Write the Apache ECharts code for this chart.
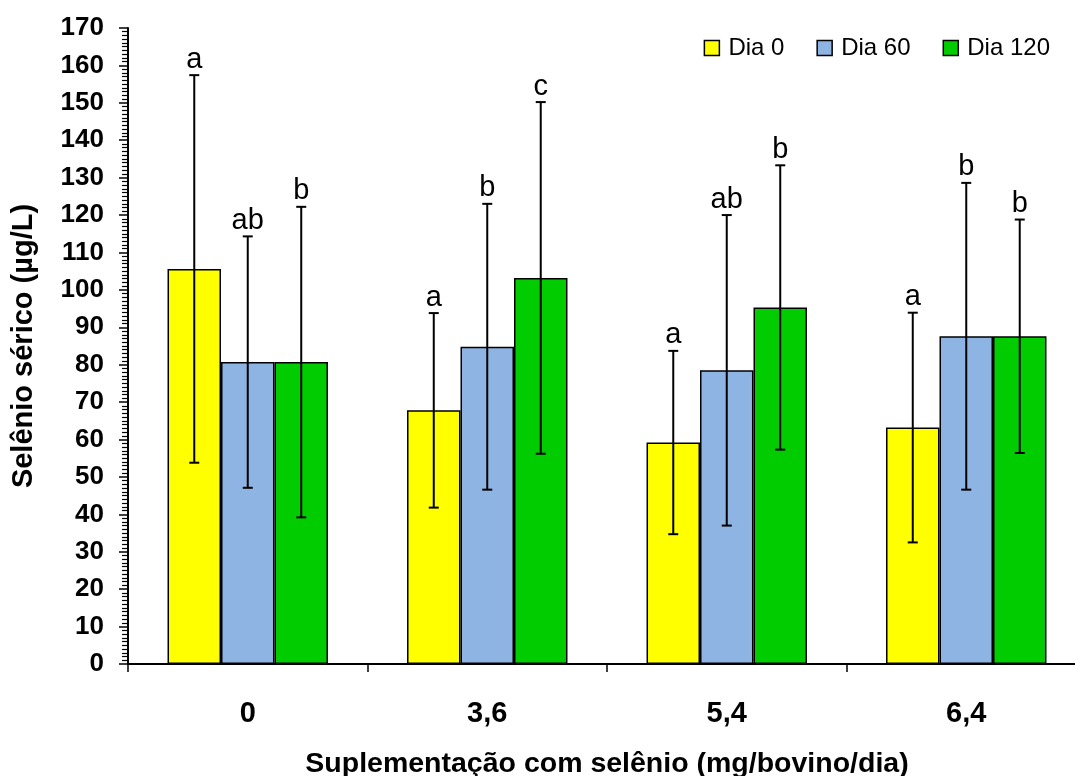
<!DOCTYPE html>
<html>
<head>
<meta charset="utf-8">
<script src="https://cdn.jsdelivr.net/npm/echarts@6/dist/echarts.min.js"></script>
<style>
  html, body { margin: 0; padding: 0; background: #fff; overflow: hidden; width: 1075px; height: 776px; }
  #chart { width: 1075px; height: 776px; display: block; }
</style>
</head>
<body>
<div id="chart"></div>
<script>
const categories = ['0', '3,6', '5,4', '6,4'];
const seriesNames = ['Dia 0', 'Dia 60', 'Dia 120'];
const dia0 = [105.6, 67.8, 59.2, 63.2];
const dia60 = [80.7, 84.8, 78.5, 87.6];
const dia120 = [80.7, 103.2, 95.3, 87.6];
const err0 = [51.8, 26.0, 24.5, 30.7];
const err60 = [33.6, 38.2, 41.5, 41.0];
const err120 = [41.5, 47.0, 38.0, 31.2];
const letters0 = ['a', 'a', 'a', 'a'];
const letters60 = ['ab', 'b', 'ab', 'b'];
const letters120 = ['b', 'c', 'b', 'b'];
const yTicks = { min: 0, max: 170, interval: 10 };

const FONT = "'Liberation Sans', Arial, sans-serif";
const colors = ['#FFFF00', '#8EB4E3', '#00CC00'];
const catGap = 0.33;

const means = [dia0, dia60, dia120];
const errs = [err0, err60, err120];
const letters = [letters0, letters60, letters120];

const errData = [];
for (let s = 0; s < 3; s++) {
  for (let c = 0; c < categories.length; c++) {
    errData.push({ value: [c, means[s][c], errs[s][c], s], label: letters[s][c] });
  }
}

const barSeries = seriesNames.map((name, s) => ({
  name: name,
  type: 'bar',
  data: means[s],
  barGap: '0%',
  barCategoryGap: (catGap * 100) + '%',
  itemStyle: { color: colors[s], borderColor: '#000', borderWidth: 1.5 },
  z: 2
}));

const chart = echarts.init(document.getElementById('chart'), null, { renderer: 'canvas', width: 1075, height: 776 });
chart.setOption({
  animation: false,
  backgroundColor: '#fff',
  grid: { left: 128, right: -11, top: 28, bottom: 112, containLabel: false, outerBoundsMode: 'none' },
  legend: {
    data: seriesNames,
    right: 20,
    top: 31,
    icon: 'rect',
    itemWidth: 15,
    itemHeight: 15,
    itemGap: 32,
    itemStyle: { borderColor: '#000', borderWidth: 1.5 },
    textStyle: { fontFamily: FONT, fontSize: 24, color: '#000', padding: [0, 0, 0, 4] }
  },
  xAxis: {
    type: 'category',
    data: categories,
    boundaryGap: true,
    axisLine: { show: true, lineStyle: { color: '#000', width: 2 } },
    axisTick: { show: true, length: 8, lineStyle: { color: '#000', width: 1.5 } },
    axisLabel: { fontFamily: FONT, fontSize: 29, fontWeight: 'bold', color: '#000', margin: 35 },
    splitLine: { show: false },
    name: 'Suplementação com selênio (mg/bovino/dia)',
    nameLocation: 'middle',
    nameGap: 86,
    nameTextStyle: { fontFamily: FONT, fontSize: 28.5, fontWeight: 'bold', color: '#000' }
  },
  yAxis: {
    type: 'value',
    min: yTicks.min,
    max: yTicks.max,
    interval: yTicks.interval,
    axisLine: { show: true, lineStyle: { color: '#000', width: 2 } },
    axisTick: { show: true, length: 9, lineStyle: { color: '#000', width: 1.5 } },
    minorTick: { show: true, splitNumber: 10, length: 6, lineStyle: { color: '#000', width: 1.2 } },
    axisLabel: { fontFamily: FONT, fontSize: 26, fontWeight: 'bold', color: '#000', margin: 24 },
    splitLine: { show: false },
    name: 'Selênio sérico (µg/L)',
    nameLocation: 'middle',
    nameGap: 90,
    nameRotate: 90,
    nameTextStyle: { fontFamily: FONT, fontSize: 29, fontWeight: 'bold', color: '#000' }
  },
  series: barSeries.concat([{
    type: 'custom',
    name: 'err',
    data: errData,
    encode: { x: 0, y: 1 },
    z: 5,
    silent: true,
    renderItem: function (params, api) {
      const c = api.value(0), m = api.value(1), e = api.value(2), s = api.value(3);
      const cw = api.size([1, 0])[0];
      const bw = cw * (1 - catGap) / 3;
      const base = api.coord([c, m]);
      const x = base[0] + (s - 1) * bw;
      const yTop = api.coord([c, m + e])[1];
      const yBot = api.coord([c, m - e])[1];
      const half = 5;
      const stroke = { stroke: '#000', lineWidth: 2 };
      const lbl = errData[params.dataIndex].label;
      return {
        type: 'group',
        children: [
          { type: 'line', shape: { x1: x, y1: yTop, x2: x, y2: yBot }, style: stroke },
          { type: 'line', shape: { x1: x - half, y1: yTop, x2: x + half, y2: yTop }, style: stroke },
          { type: 'line', shape: { x1: x - half, y1: yBot, x2: x + half, y2: yBot }, style: stroke },
          { type: 'text', style: { x: x, y: yTop - 1, text: lbl, textAlign: 'center', textVerticalAlign: 'bottom',
              fontFamily: FONT, fontSize: 29, fill: '#000' } }
        ]
      };
    }
  }])
});
</script>
</body>
</html>
